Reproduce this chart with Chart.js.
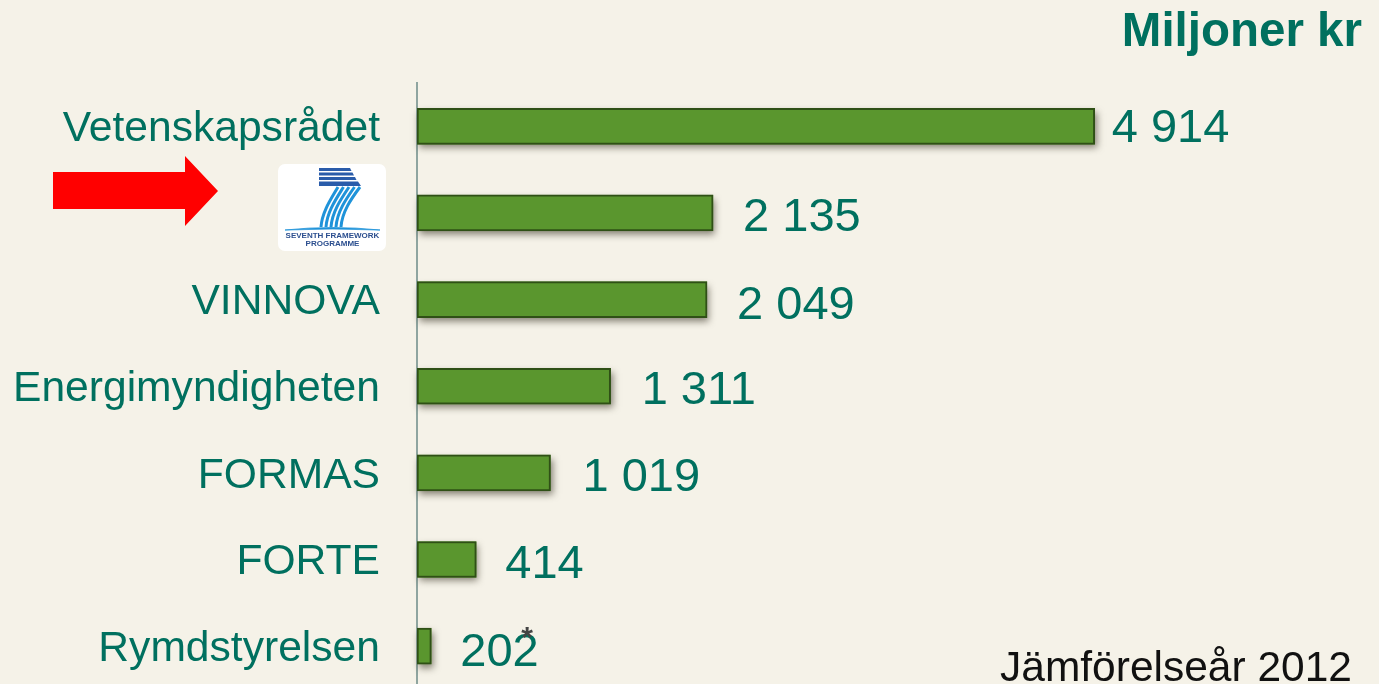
<!DOCTYPE html>
<html lang="sv">
<head>
<meta charset="utf-8">
<title>Miljoner kr</title>
<script src="https://cdn.jsdelivr.net/npm/chart.js@4/dist/chart.umd.min.js"></script>
<style>
  html, body { margin: 0; padding: 0; width: 1379px; height: 684px; overflow: hidden; background: #f5f2e8; }
  #wrap { position: relative; width: 1379px; height: 684px; overflow: hidden; }
  #chart { position: absolute; left: 0; top: 0; }
  svg { position: absolute; left: 0; top: 0; }
</style>
</head>
<body>
<div id="wrap">
  <canvas id="chart" width="1379" height="752"></canvas>
  <svg width="1379" height="684" viewBox="0 0 1379 684">
    <!-- red arrow -->
    <polygon fill="#ff0000" points="53,172 185,172 185,156 218,191 185,226 185,209 53,209"/>
    <!-- FP7 logo -->
    <rect x="278" y="164" width="108" height="87" rx="7" fill="#ffffff"/>
    <g fill="#2a5caa">
      <polygon points="319,168 350,168 351.5,171 319,171"/>
      <polygon points="319,172.5 352.5,172.5 354,175.5 319,175.5"/>
      <polygon points="319,177 355,177 356.5,180 319,180"/>
      <polygon points="319,181.5 358,181.5 361,186 319,186"/>
    </g>
    <g fill="none" stroke="#1f93d9" stroke-width="3">
      <path d="M338,187 C331,199 322,212 321,227"/>
      <path d="M343.5,187 C336,199 327,212 326,227"/>
      <path d="M349,187 C341,199 332,212 331,227"/>
      <path d="M354.5,187 C346,199 337,212 336,227"/>
      <path d="M360,187 C351,199 342,212 341,227"/>
    </g>
    <path d="M285,230 Q332,225 380,230 Q332,228 285,230 Z" fill="#1f93d9" stroke="#1f93d9" stroke-width="0.8"/>
    <text x="332.5" y="238" text-anchor="middle" font-family="Liberation Sans" font-weight="700" font-size="8" fill="#2c4f8f">SEVENTH FRAMEWORK</text>
    <text x="332.5" y="246" text-anchor="middle" font-family="Liberation Sans" font-weight="700" font-size="8" fill="#2c4f8f">PROGRAMME</text>
  </svg>
</div>
<script>
  const categories = ['Vetenskapsrådet', 'FP7', 'VINNOVA', 'Energimyndigheten', 'FORMAS', 'FORTE', 'Rymdstyrelsen'];
  // bar lengths as drawn in the picture, they don't quite follow the printed numbers
  const barValues = [4914, 2147, 2103, 1404, 968, 430, 104];
  const valueLabels = ['4 914', '2 135', '2 049', '1 311', '1 019', '414', '202'];
  const hiddenTick = 'FP7'; // shown as the logo instead

  const labelGap = [17, 30, 30, 31, 32, 29, 29];
  const labelShift = [3, 5, 6, 5, 5, 6, 7];

  const TEAL = '#00705f';
  const FONT = "'Liberation Sans', Arial, sans-serif";

  // the bar element clips to its own box, so the shadow goes in underneath first
  const barShadow = {
    id: 'barShadow',
    beforeDatasetDraw(chart) {
      const ctx = chart.ctx;
      ctx.save();
      ctx.shadowColor = 'rgba(60,55,40,0.6)';
      ctx.shadowBlur = 7;
      ctx.shadowOffsetX = 2;
      ctx.shadowOffsetY = 4;
      ctx.fillStyle = '#5a962e';
      chart.getDatasetMeta(0).data.forEach(bar => {
        ctx.fillRect(bar.base, bar.y - bar.height / 2, bar.x - bar.base, bar.height);
      });
      ctx.restore();
    }
  };

  const slideText = {
    id: 'slideText',
    afterDraw(chart) {
      const ctx = chart.ctx;
      const bars = chart.getDatasetMeta(0).data;
      ctx.save();
      ctx.textBaseline = 'middle';
      ctx.textAlign = 'left';
      ctx.fillStyle = TEAL;
      ctx.font = '47px ' + FONT;
      bars.forEach((bar, i) => {
        ctx.fillText(valueLabels[i], bar.x + labelGap[i], bar.y + labelShift[i]);
      });

      ctx.textBaseline = 'alphabetic';
      ctx.textAlign = 'right';
      ctx.font = 'bold 47.5px ' + FONT;
      ctx.fillText('Miljoner kr', 1362, 46);

      ctx.fillStyle = '#111111';
      ctx.font = '42.5px ' + FONT;
      ctx.fillText('Jämförelseår 2012', 1352, 681);

      ctx.fillStyle = '#444444';
      ctx.textAlign = 'center';
      ctx.font = 'bold 30px ' + FONT;
      ctx.fillText('*', 527, 647);
      ctx.restore();
    }
  };

  new Chart(document.getElementById('chart').getContext('2d'), {
    type: 'bar',
    data: {
      labels: categories,
      datasets: [{
        data: barValues,
        backgroundColor: '#5a962e',
        borderColor: '#2f5016',
        borderWidth: 2,
        borderSkipped: false,
        barThickness: 36
      }]
    },
    options: {
      indexAxis: 'y',
      responsive: false,
      animation: false,
      layout: { padding: { top: 83, bottom: 9.4, left: 0, right: 0 } },
      plugins: { legend: { display: false }, tooltip: { enabled: false } },
      scales: {
        x: { display: false, min: 0, max: 6975 },
        y: {
          afterFit: scale => { scale.width = 417; },
          grid: { display: false, drawTicks: false },
          border: { display: true, color: '#8fa5a0', width: 2 },
          ticks: {
            padding: 37,
            labelOffset: 3,
            color: TEAL,
            font: { family: FONT, size: 42.6 },
            autoSkip: false,
            callback(v) {
              const name = this.getLabelForValue(v);
              return name === hiddenTick ? '' : name;
            }
          }
        }
      }
    },
    plugins: [barShadow, slideText]
  });
</script>
</body>
</html>
